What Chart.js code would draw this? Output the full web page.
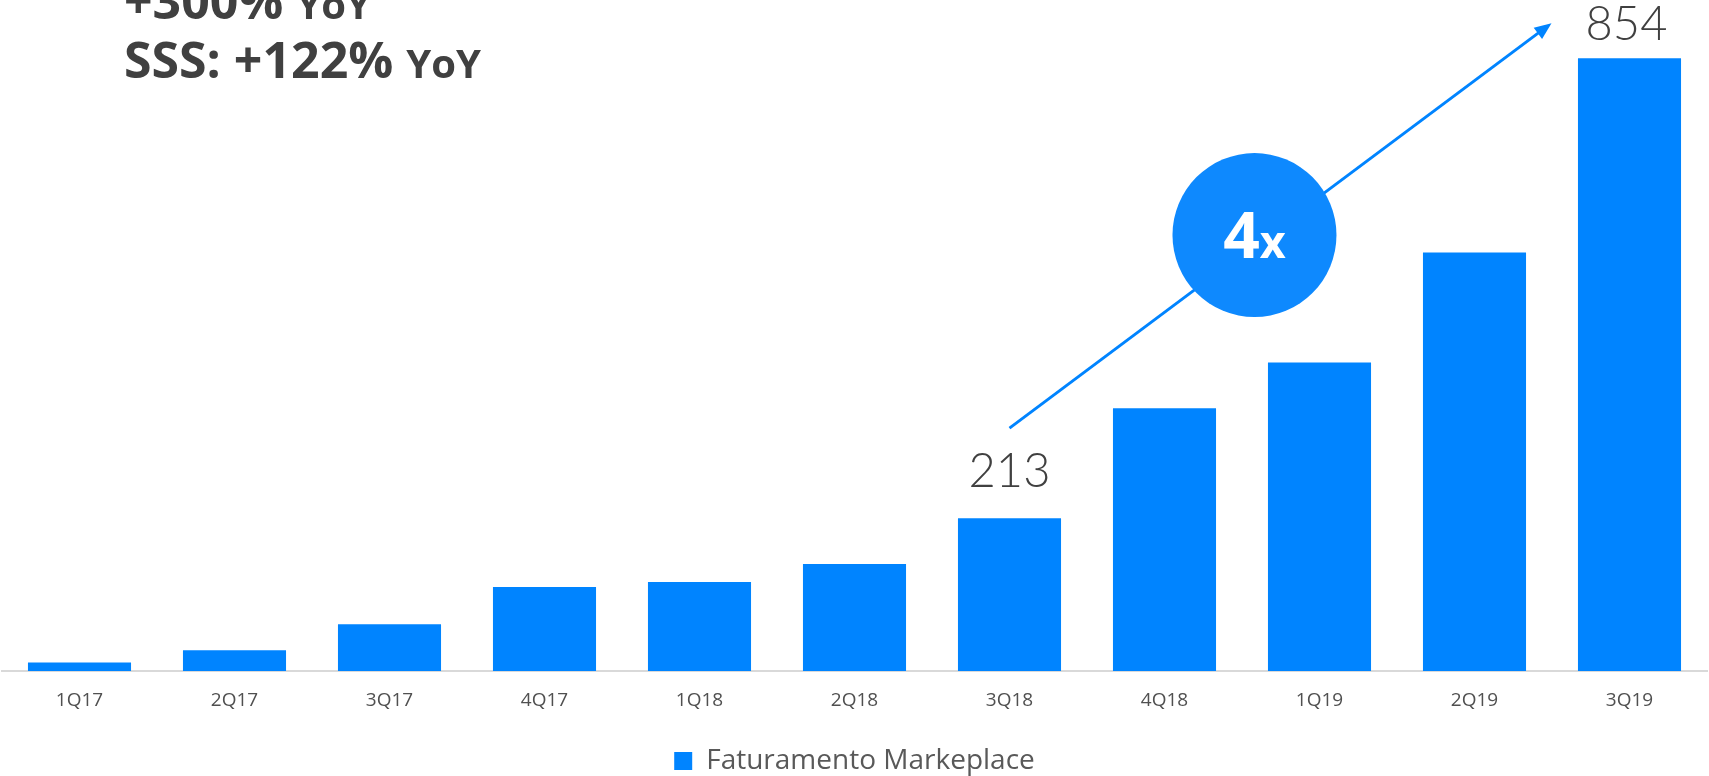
<!DOCTYPE html>
<html>
<head>
<meta charset="utf-8">
<script src="https://cdn.jsdelivr.net/npm/chart.js@4.4.0/dist/chart.umd.min.js"></script>
<style>
  html, body { margin: 0; padding: 0; background: #fff; }
  #wrap { width: 1709px; height: 776px; }
</style>
</head>
<body>
<div id="wrap"><canvas id="myChart"></canvas></div>
<script>
const quarters = ["1Q17", "2Q17", "3Q17", "4Q17", "1Q18", "2Q18", "3Q18", "4Q18", "1Q19", "2Q19", "3Q19"];
const faturamento = [12, 29, 65, 117, 124, 149, 213, 366, 430, 583, 854];
const labeledBars = [6, 10];
const headlines = [
  ["+300%", "YoY"],
  ["SSS: +122%", "YoY"],
];
const growth = ["4", "x"];
const seriesName = "Faturamento Markeplace";

const blue = "#0084FF";
const circleBlue = "#0E89FE";
const darkText = "#404040";

// value labels, arrow, "4x" badge and headline text
const annotations = {
  id: "annotations",
  afterDatasetsDraw(chart) {
    const { ctx } = chart;
    const bars = chart.getDatasetMeta(0).data;
    const a = bars[labeledBars[0]];
    const b = bars[labeledBars[1]];

    ctx.save();

    // value labels over the two bars
    ctx.fillStyle = darkText;
    ctx.font = "300 47px Lato, 'Open Sans', sans-serif";
    ctx.textAlign = "center";
    ctx.textBaseline = "alphabetic";
    ctx.fillText(String(faturamento[labeledBars[0]]), a.x, a.y - 31);
    ctx.fillText(String(faturamento[labeledBars[1]]), b.x - 3, b.y - 18);

    // arrow
    const x0 = a.x, y0 = a.y - 90;
    const x1 = b.x - 78, y1 = b.y - 35;
    const ang = Math.atan2(y1 - y0, x1 - x0);
    ctx.strokeStyle = blue;
    ctx.fillStyle = blue;
    ctx.lineWidth = 3;
    ctx.beginPath();
    ctx.moveTo(x0, y0);
    ctx.lineTo(x1 - 10 * Math.cos(ang), y1 - 10 * Math.sin(ang));
    ctx.stroke();
    ctx.beginPath();
    ctx.moveTo(x1, y1);
    ctx.lineTo(x1 - 17 * Math.cos(ang) + 7 * Math.sin(ang), y1 - 17 * Math.sin(ang) - 7 * Math.cos(ang));
    ctx.lineTo(x1 - 17 * Math.cos(ang) - 7 * Math.sin(ang), y1 - 17 * Math.sin(ang) + 7 * Math.cos(ang));
    ctx.closePath();
    ctx.fill();

    // badge
    const t = 0.452;
    const cx = x0 + t * (x1 - x0);
    const cy = y0 + t * (y1 - y0) - 10;
    ctx.fillStyle = circleBlue;
    ctx.beginPath();
    ctx.arc(cx, cy, 82, 0, Math.PI * 2);
    ctx.fill();

    ctx.fillStyle = "#fff";
    ctx.textAlign = "left";
    const bigFont = "bold 64px 'Open Sans', sans-serif";
    const smallFont = "bold 45px 'Open Sans', sans-serif";
    ctx.font = bigFont;
    const w4 = ctx.measureText(growth[0]).width;
    ctx.font = smallFont;
    const wx = ctx.measureText(growth[1]).width;
    const sx = cx - (w4 + wx) / 2;
    ctx.font = bigFont;
    ctx.fillText(growth[0], sx, cy + 23);
    ctx.font = smallFont;
    ctx.fillText(growth[1], sx + w4, cy + 23);

    // headline
    ctx.fillStyle = darkText;
    const hBig = "bold 50px 'Open Sans', sans-serif";
    const hSmall = "bold 40px 'Open Sans', sans-serif";
    const baselines = [19, 78];
    headlines.forEach((line, i) => {
      ctx.font = hBig;
      ctx.fillText(line[0], 124, baselines[i]);
      const w = ctx.measureText(line[0] + " ").width;
      ctx.font = hSmall;
      ctx.fillText(line[1], 124 + w, baselines[i]);
    });

    ctx.restore();
  },
};

const data = {
  labels: quarters,
  datasets: [
    {
      label: seriesName,
      data: faturamento,
      backgroundColor: blue,
      borderWidth: 0,
      barPercentage: 0.665,
      categoryPercentage: 1,
    },
  ],
};

const config = {
  type: "bar",
  data: data,
  plugins: [annotations],
  options: {
    responsive: true,
    maintainAspectRatio: false,
    animation: false,
    layout: {
      padding: { top: 0, left: 2, right: 2, bottom: -9 },
    },
    scales: {
      x: {
        grid: {
          display: false,
          drawTicks: false,
        },
        border: {
          display: true,
          color: "#d9d9d9",
          width: 2,
        },
        ticks: {
          color: "#505050",
          padding: 18,
          font: {
            family: "'Open Sans', sans-serif",
            size: 19,
          },
        },
        afterFit: (scale) => {
          scale.height = 66;
        },
      },
      y: {
        display: false,
        min: 0,
        max: 935,
      },
    },
    plugins: {
      legend: {
        display: true,
        position: "bottom",
        labels: {
          boxWidth: 18,
          boxHeight: 18,
          padding: 10,
          color: "#595959",
          font: {
            family: "'Open Sans', sans-serif",
            size: 28,
          },
        },
      },
      tooltip: {
        enabled: false,
      },
    },
  },
};

const myChart = new Chart(document.getElementById("myChart"), config);
</script>
</body>
</html>
